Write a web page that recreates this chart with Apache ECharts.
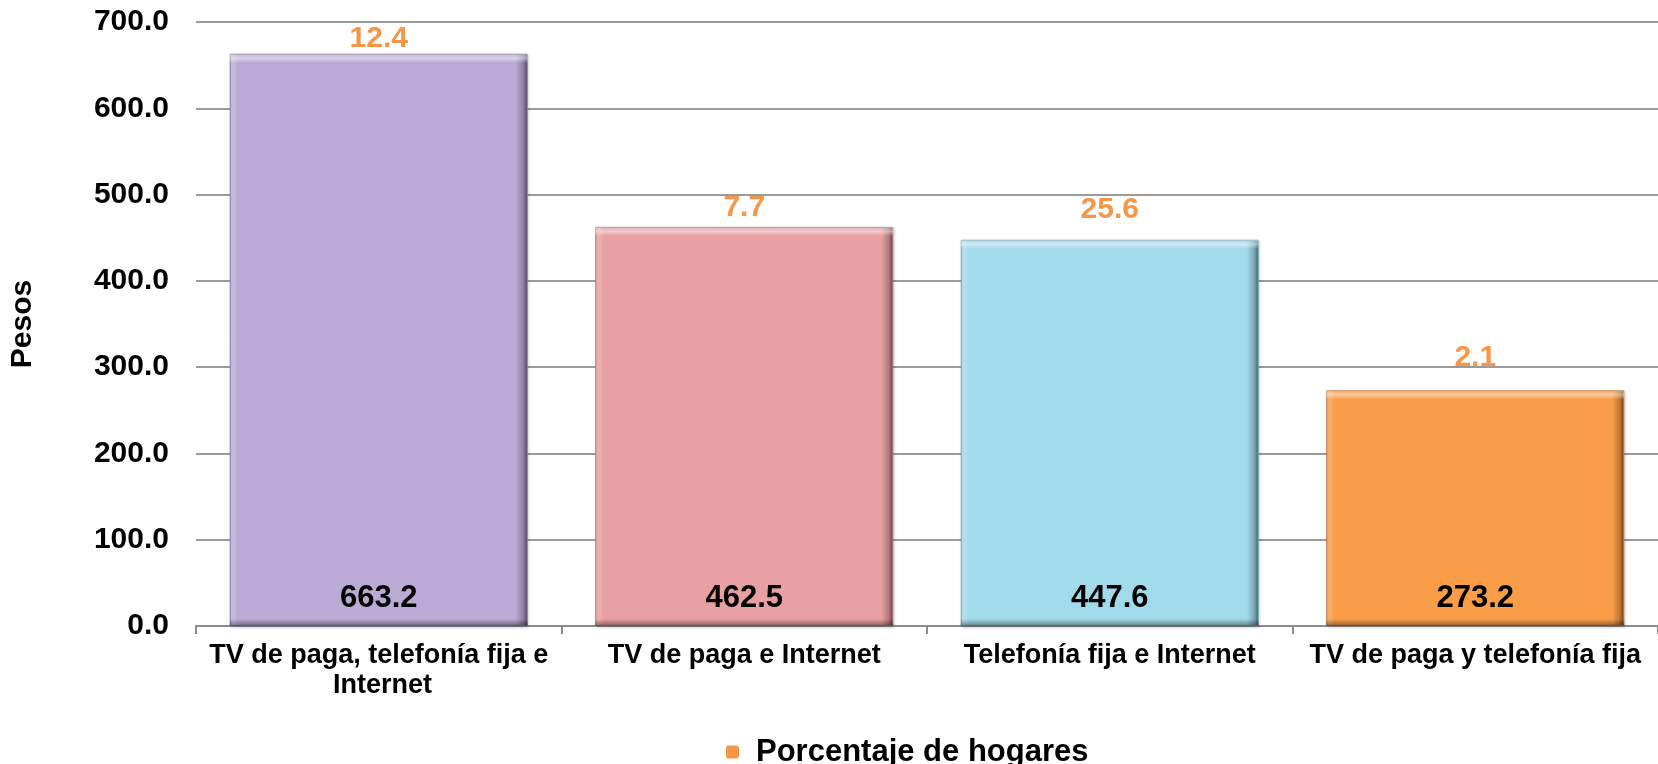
<!DOCTYPE html>
<html>
<head>
<meta charset="utf-8">
<script src="https://cdn.jsdelivr.net/npm/echarts@6/dist/echarts.min.js"></script>
<style>
html,body{margin:0;padding:0;background:#ffffff;}
#chart{width:1658px;height:764px;}
</style>
</head>
<body>
<div id="chart"></div>
<script>
// ---- data ----
var categories = [
  'TV de paga, telefonía fija e Internet',
  'TV de paga e Internet',
  'Telefonía fija e Internet',
  'TV de paga y telefonía fija'
];
var pesos = [663.2, 462.5, 447.6, 273.2];
var porcentajeHogares = [12.4, 7.7, 25.6, 2.1];
var yTicks = [0, 100, 200, 300, 400, 500, 600, 700];

// ---- styles ----
var barColors = ['#BBAAD6', '#E8A0A2', '#A1DAEA', '#F99D48'];
var barLight  = ['#D6CAE9', '#F4C2C3', '#C6ECF6', '#FCC189'];
var barMid    = ['#8D7FA3', '#B07A7C', '#79A6B3', '#BE7634'];
var barDark   = ['#4E4062', '#6E3C3E', '#35636F', '#7A420F'];
var pctLabelDistance = [0, 4, 15, 18];
var orange = '#F79646';
var FONT = '"Liberation Sans", Arial, sans-serif';
var GRID_H = 604, BAR_W = 298;

var chart = echarts.init(document.getElementById('chart'), null, {renderer: 'canvas'});

var yMax = yTicks[yTicks.length - 1];

var barData = pesos.map(function (v, i) {
  return {
    value: v,
    itemStyle: {
      color: new echarts.graphic.LinearGradient(0, 0, 1, 0, [
        {offset: 0, color: barLight[i]},
        {offset: 0.027, color: barColors[i]},
        {offset: 0.96, color: barColors[i]},
        {offset: 0.985, color: barMid[i]},
        {offset: 1, color: barDark[i]}
      ]),
      borderColor: barMid[i],
      borderWidth: 1,
      shadowColor: 'rgba(0,0,0,0.2)',
      shadowBlur: 3,
      shadowOffsetX: 1,
      shadowOffsetY: 1
    }
  };
});

// vertical bevel overlay (top highlight, bottom shade)
var bevelData = pesos.map(function (v) {
  var h = v / yMax * GRID_H;
  var t = 9 / h, b = 7 / h;
  return {
    value: v,
    itemStyle: {
      color: new echarts.graphic.LinearGradient(0, 0, 0, 1, [
        {offset: 0, color: 'rgba(255,255,255,0.25)'},
        {offset: t * 0.5, color: 'rgba(255,255,255,0.45)'},
        {offset: t, color: 'rgba(255,255,255,0.0)'},
        {offset: 1 - b, color: 'rgba(0,0,0,0.0)'},
        {offset: 1 - b * 0.4, color: 'rgba(0,0,0,0.25)'},
        {offset: 1, color: 'rgba(0,0,0,0.38)'}
      ])
    }
  };
});

var option = {
  backgroundColor: '#ffffff',
  animation: false,
  grid: {left: 184, top: 22, width: 1480, height: GRID_H, containLabel: false},
  legend: {
    data: [{name: 'Porcentaje de hogares', icon: 'roundRect'}],
    left: 721,
    top: 731,
    itemWidth: 13,
    itemHeight: 13,
    itemStyle: {color: orange, opacity: 1},
    textStyle: {
      fontFamily: FONT, fontWeight: 'bold', fontSize: 31, color: '#000',
      lineHeight: 32, padding: [0, 0, 0, 12]
    }
  },
  xAxis: {
    type: 'category',
    data: categories,
    axisLine: {show: true, lineStyle: {color: '#8c8c8c', width: 2}},
    axisTick: {show: true, length: 8, lineStyle: {color: '#8c8c8c', width: 2}},
    axisLabel: {
      interval: 0,
      margin: 15,
      fontFamily: FONT, fontWeight: 'bold', fontSize: 27, color: '#000',
      lineHeight: 30,
      width: 360,
      overflow: 'break'
    }
  },
  yAxis: {
    type: 'value',
    min: yTicks[0],
    max: yMax,
    interval: 100,
    name: 'Pesos',
    nameLocation: 'middle',
    nameGap: 158,
    nameRotate: 90,
    nameTextStyle: {fontFamily: FONT, fontWeight: 'bold', fontSize: 30, color: '#000'},
    axisLine: {show: false},
    axisTick: {show: false},
    axisLabel: {
      margin: 27,
      fontFamily: FONT, fontWeight: 'bold', fontSize: 30, color: '#000',
      formatter: function (v) { return v.toFixed(1); }
    },
    splitLine: {show: true, lineStyle: {color: '#9a9a9a', width: 2}}
  },
  series: [
    {
      name: 'Pesos',
      type: 'bar',
      barWidth: BAR_W,
      data: barData,
      z: 2
    },
    {
      name: 'bevel',
      type: 'bar',
      barWidth: BAR_W,
      barGap: '-100%',
      silent: true,
      data: bevelData,
      z: 3,
      label: {
        show: true,
        position: 'insideBottom',
        distance: 12,
        fontFamily: FONT, fontWeight: 'bold', fontSize: 31, color: '#000',
        formatter: function (p) { return p.value.toFixed(1); }
      }
    },
    {
      name: 'Porcentaje de hogares',
      type: 'scatter',
      symbolSize: 0,
      itemStyle: {color: orange, opacity: 1},
      data: pesos.map(function (v, i) {
        return {value: v, label: {distance: pctLabelDistance[i]}};
      }),
      z: 4,
      label: {
        show: true,
        position: 'top',
        opacity: 1,
        fontFamily: FONT, fontWeight: 'bold', fontSize: 30, color: orange,
        formatter: function (p) { return porcentajeHogares[p.dataIndex].toFixed(1); }
      }
    }
  ]
};
chart.setOption(option);
</script>
</body>
</html>
